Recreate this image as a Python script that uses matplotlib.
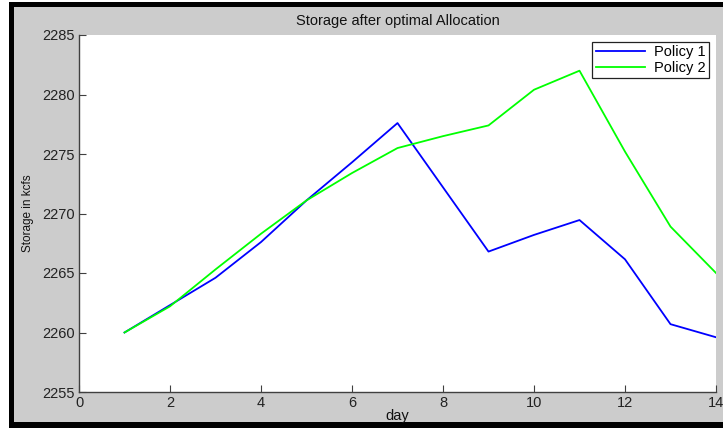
import matplotlib
matplotlib.use("Agg")
import matplotlib.pyplot as plt
from matplotlib.patches import Rectangle

days = [1, 2, 3, 4, 5, 6, 7, 8, 9, 10, 11, 12, 13, 14]
policy1 = [2260.0, 2262.3, 2264.6, 2267.6, 2271.1, 2274.3, 2277.6, 2272.2,
           2266.8, 2268.2, 2269.45, 2266.15, 2260.7, 2259.6]
policy2 = [2260.0, 2262.2, 2265.3, 2268.3, 2271.1, 2273.4, 2275.5, 2276.5,
           2277.4, 2280.4, 2282.0, 2275.2, 2268.9, 2265.0]
xticks = [0, 2, 4, 6, 8, 10, 12, 14]
yticks = [2255, 2260, 2265, 2270, 2275, 2280, 2285]

plt.rcParams['font.family'] = ['Liberation Sans', 'DejaVu Sans']

W, H = 723, 430
fig = plt.figure(figsize=(W / 100, H / 100), dpi=100, facecolor='white')

# black frame + gray figure background
fig.patches.append(Rectangle((9 / W, 2 / H), 1, 426 / H, transform=fig.transFigure,
                             facecolor='black', edgecolor='none', zorder=-2))
fig.patches.append(Rectangle((14 / W, 8 / H), 1, 415 / H, transform=fig.transFigure,
                             facecolor='#cccccc', edgecolor='none', zorder=-1))

ax = fig.add_axes([79 / W, (H - 392) / H, (716 - 79) / W, (392 - 35) / H])
ax.set_facecolor('white')
ax.plot(days, policy1, color='#0000ff', lw=1.3, label='Policy 1')
ax.plot(days, policy2, color='#00ff00', lw=1.3, label='Policy 2')

ax.set_xlim(0, 14)
ax.set_ylim(2255, 2285)
ax.set_xticks(xticks)
ax.set_yticks(yticks)
ax.tick_params(direction='in', length=5, width=0.8, color='#404040',
               labelsize=10.5, labelcolor='#222222', pad=3)
for s in ['top', 'right']:
    ax.spines[s].set_visible(False)
for s in ['left', 'bottom']:
    ax.spines[s].set_color('#404040')
    ax.spines[s].set_linewidth(1.0)

ax.set_title('Storage after optimal Allocation', fontsize=10.5, color='#111111', pad=7)
ax.set_xlabel('day', fontsize=10.5, color='#111111', labelpad=-1)
ax.set_ylabel('Storage in kcfs', fontsize=8.5, color='#111111', labelpad=6)

leg = ax.legend(loc='upper right', fontsize=10.5, frameon=True, fancybox=False,
                edgecolor='#222222', framealpha=1, borderaxespad=0.45,
                handlelength=3.4, labelspacing=0.1, borderpad=0.25,
                handletextpad=0.6)
leg.get_frame().set_linewidth(0.9)

fig.savefig('out.png', dpi=100, facecolor=fig.get_facecolor())
